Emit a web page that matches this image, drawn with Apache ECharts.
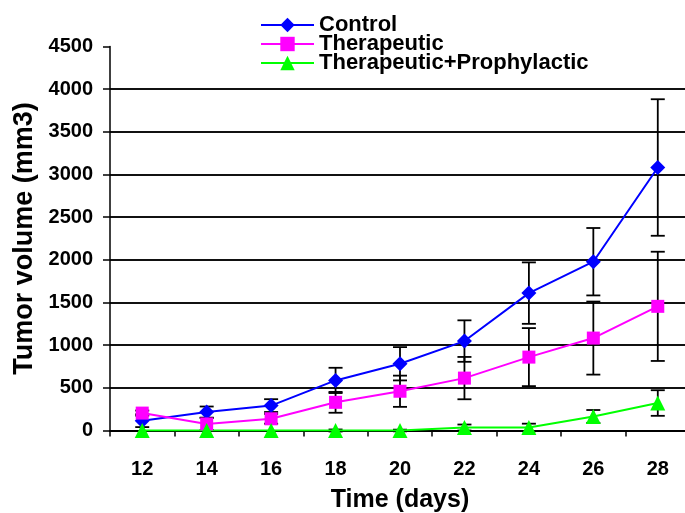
<!DOCTYPE html>
<html>
<head>
<meta charset="utf-8">
<script src="https://cdn.jsdelivr.net/npm/echarts@6/dist/echarts.min.js"></script>
<style>html,body{margin:0;padding:0;background:#fff;overflow:hidden}#c{width:700px;height:513px}</style>
</head>
<body>
<div id="c"></div>
<script>
var days = ['12','14','16','18','20','22','24','26','28'];
var control = [115, 216, 292, 587, 782, 1048, 1610, 1978, 3082];
var controlErr = [75, 65, 75, 148, 195, 243, 360, 395, 800];
var therapeutic = [204, 77, 137, 330, 460, 614, 860, 1083, 1455];
var therapeuticErr = [30, 70, 57, 122, 183, 248, 340, 428, 640];
var combo = [0, 0, 0, 0, 0, 35, 35, 165, 322];
var comboErr = [0, 0, 0, 12, 10, 35, 45, 75, 150];
var yTicks = [0, 500, 1000, 1500, 2000, 2500, 3000, 3500, 4000, 4500];

var FONT = '"Liberation Sans", Arial, sans-serif';

function errData(vals, errs) {
  var out = [];
  for (var i = 0; i < vals.length; i++) {
    if (errs[i] > 0) out.push([i, vals[i] - errs[i], vals[i] + errs[i]]);
  }
  return out;
}
function errSeries(vals, errs) {
  return {
    type: 'custom',
    z: 1,
    silent: true,
    data: errData(vals, errs),
    renderItem: function (params, api) {
      var x = api.value(0);
      var lo = api.coord([x, api.value(1)]);
      var hi = api.coord([x, api.value(2)]);
      var hw = 7;
      var st = { stroke: '#000', lineWidth: 1.8 };
      return {
        type: 'group',
        children: [
          { type: 'line', shape: { x1: hi[0], y1: hi[1], x2: lo[0], y2: lo[1] }, style: st },
          { type: 'line', shape: { x1: hi[0] - hw, y1: hi[1], x2: hi[0] + hw, y2: hi[1] }, style: st },
          { type: 'line', shape: { x1: lo[0] - hw, y1: lo[1], x2: lo[0] + hw, y2: lo[1] }, style: st }
        ]
      };
    }
  };
}

var chart = echarts.init(document.getElementById('c'), null, { renderer: 'canvas' });
chart.setOption({
  animation: false,
  backgroundColor: '#fff',
  textStyle: { fontFamily: FONT },
  grid: { left: 110, right: 10, top: 46.5, bottom: 82.5, containLabel: false, outerBoundsMode: 'none' },
  legend: {
    orient: 'vertical',
    left: 260,
    top: 14,
    padding: 0,
    itemWidth: 53,
    itemHeight: 18,
    itemGap: -3,
    textStyle: { fontFamily: FONT, fontWeight: 'bold', fontSize: 22, lineHeight: 19, color: '#000' },
    data: ['Control', 'Therapeutic', 'Therapeutic+Prophylactic']
  },
  xAxis: {
    type: 'category',
    data: days,
    boundaryGap: true,
    axisLine: { lineStyle: { color: '#000', width: 2 } },
    axisTick: { show: true, interval: 0, length: 6, lineStyle: { color: '#000', width: 1.5 } },
    axisLabel: { margin: 29, fontFamily: FONT, fontWeight: 'bold', fontSize: 20, color: '#000' },
    name: 'Time (days)',
    nameLocation: 'middle',
    nameGap: 57,
    nameTextStyle: { fontFamily: FONT, fontWeight: 'bold', fontSize: 25, color: '#000' }
  },
  yAxis: {
    type: 'value',
    min: yTicks[0],
    max: yTicks[yTicks.length - 1],
    interval: 500,
    axisLine: { show: true, lineStyle: { color: '#000', width: 1.5 } },
    axisTick: { show: true, length: 7, lineStyle: { color: '#000', width: 1.5 } },
    splitLine: { show: true, showMaxLine: false, lineStyle: { color: '#111', width: 2 } },
    axisLabel: { margin: 17, fontFamily: FONT, fontWeight: 'bold', fontSize: 20, color: '#000',
      formatter: function (v) { return String(v); } },
    name: 'Tumor volume (mm3)',
    nameLocation: 'middle',
    nameGap: 72,
    nameRotate: 90,
    nameTextStyle: { fontFamily: FONT, fontWeight: 'bold', fontSize: 27, color: '#000' }
  },
  series: [
    errSeries(control, controlErr),
    errSeries(therapeutic, therapeuticErr),
    errSeries(combo, comboErr),
    {
      name: 'Control', type: 'line', z: 3, data: control,
      symbol: 'diamond', symbolSize: 15,
      lineStyle: { color: '#0000FF', width: 2 },
      itemStyle: { color: '#0000FF' }
    },
    {
      name: 'Therapeutic', type: 'line', z: 3, data: therapeutic,
      symbol: 'rect', symbolSize: 13,
      lineStyle: { color: '#FF00FF', width: 2 },
      itemStyle: { color: '#FF00FF' }
    },
    {
      name: 'Therapeutic+Prophylactic', type: 'line', z: 3, data: combo,
      symbol: 'triangle', symbolSize: 15,
      lineStyle: { color: '#00FF00', width: 2 },
      itemStyle: { color: '#00FF00' }
    }
  ]
});
</script>
</body>
</html>
